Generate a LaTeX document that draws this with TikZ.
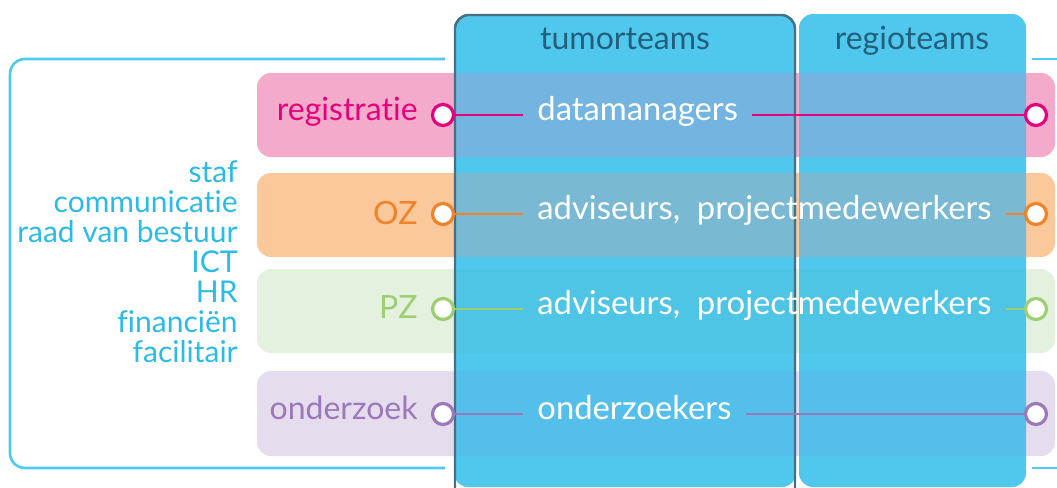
\documentclass[tikz,border=0pt]{standalone}
\usepackage{fontspec}
\setmainfont{Lato}[Ligatures={CommonOff}]
\definecolor{frame}{RGB}{78,201,239}
\definecolor{colblue}{RGB}{80,200,238}
\definecolor{coledge}{RGB}{72,112,132}
\definecolor{headtxt}{RGB}{35,95,125}
\definecolor{staftxt}{RGB}{43,187,232}
\definecolor{pinkband}{RGB}{244,170,203}
\definecolor{pinkline}{RGB}{230,0,126}
\definecolor{pinkover}{RGB}{115,180,225}
\definecolor{orgband}{RGB}{250,200,155}
\definecolor{orgline}{RGB}{240,130,40}
\definecolor{orgover}{RGB}{121,185,211}
\definecolor{grnband}{RGB}{228,241,222}
\definecolor{grnline}{RGB}{155,207,114}
\definecolor{grnover}{RGB}{79,197,230}
\definecolor{purband}{RGB}{229,221,238}
\definecolor{purline}{RGB}{155,120,185}
\definecolor{purover}{RGB}{85,191,236}
\tikzset{
  band/.style={fill=#1, draw=none, rounded corners=7pt},
  column/.style={fill=colblue, draw=none, rounded corners=7pt},
  lbl/.style={inner sep=0pt, font=\fontsize{16}{18}\selectfont, text height=0.52em, text depth=0pt},
  role/.style={inner xsep=7pt, inner ysep=0pt, text=white, font=\fontsize{16.4}{18}\selectfont, text height=0.52em, text depth=0pt},
  knob/.style={circle, draw=#1, line width=1.6pt, fill=white, minimum size=10.5pt, inner sep=0pt},
  link/.style={draw=#1, line width=1.4pt},
}
\begin{document}
\begin{tikzpicture}[x=0.5pt,y=-0.5pt]
\useasboundingbox (0,0) rectangle (1057,488);
\fill[white] (0,0) rectangle (1057,488);
% surrounding frame, interrupted by the team columns
\draw[frame, line width=1.3pt, rounded corners=7.5pt] (445,59) -- (10,59) -- (10,468) -- (445,468);
\draw[frame, line width=1.3pt] (1032,59) -- (1057,59);
\draw[frame, line width=1.3pt] (1032,468) -- (1057,468);
% department bands
\path[band=pinkband] (257,73) rectangle (1055,157);
\path[band=orgband] (257,173) rectangle (1055,257);
\path[band=grnband] (257,269) rectangle (1055,353);
\path[band=purband] (257,371) rectangle (1055,456);
% team columns
\path[column] (454,14) rectangle (796,487);
\path[column] (799,14) rectangle (1026,487);
% bands seen through the columns
\foreach \xa/\xb in {454/796, 799/1026} {
  \fill[pinkover] (\xa,73) rectangle (\xb,157);
  \fill[orgover] (\xa,173) rectangle (\xb,257);
  \fill[grnover] (\xa,269) rectangle (\xb,353);
  \fill[purover] (\xa,371) rectangle (\xb,456);
}
\draw[coledge, line width=1.2pt, rounded corners=7pt] (455,488) -- (455,15) -- (795,15) -- (795,488);
% headers
\node[lbl, text=headtxt] (tumor) at (625,44) {tumorteams};
\node[lbl, text=headtxt] (regio) at (912,44) {regioteams};
% staff departments
\node[inner sep=0pt, anchor=east, align=right, text=staftxt, font=\fontsize{15}{15}\selectfont] (staf) at (238,262)
  {staf\\communicatie\\raad van bestuur\\ICT\\HR\\financiën\\facilitair};
% department labels
\node[lbl, anchor=east, text=pinkline] (reg) at (418,115) {registratie};
\node[lbl, anchor=east, text=orgline] (oz) at (418,219) {OZ};
\node[lbl, anchor=east, text=grnline] (pz) at (418,313) {PZ};
\node[lbl, anchor=east, text=purline] (ond) at (418,414) {onderzoek};
% roles
\node[role, anchor=west] (r1) at (523,115) {datamanagers};
\node[role, anchor=west] (r2) at (523,214) {adviseurs,\ \ projectmedewerkers};
\node[role, anchor=west] (r3) at (523,309) {adviseurs,\ \ projectmedewerkers};
\node[role, anchor=west] (r4) at (523,414) {onderzoekers};
% end knobs
\node[knob=pinkline] (a1) at (443,115) {};
\node[knob=orgline] (a2) at (443,214) {};
\node[knob=grnline] (a3) at (443,309) {};
\node[knob=purline] (a4) at (443,414) {};
\node[knob=pinkline] (b1) at (1036,115) {};
\node[knob=orgline] (b2) at (1036,214) {};
\node[knob=grnline] (b3) at (1036,309) {};
\node[knob=purline] (b4) at (1036,414) {};
% connectors
\path[link=pinkline] (a1) -- (r1.west) (r1.east) -- (b1);
\path[link=orgline] (a2) -- (r2.west) (r2.east) -- (b2);
\path[link=grnline] (a3) -- (r3.west) (r3.east) -- (b3);
\path[link=purline] (a4) -- (r4.west) (r4.east) -- (b4);
\end{tikzpicture}
\end{document}
